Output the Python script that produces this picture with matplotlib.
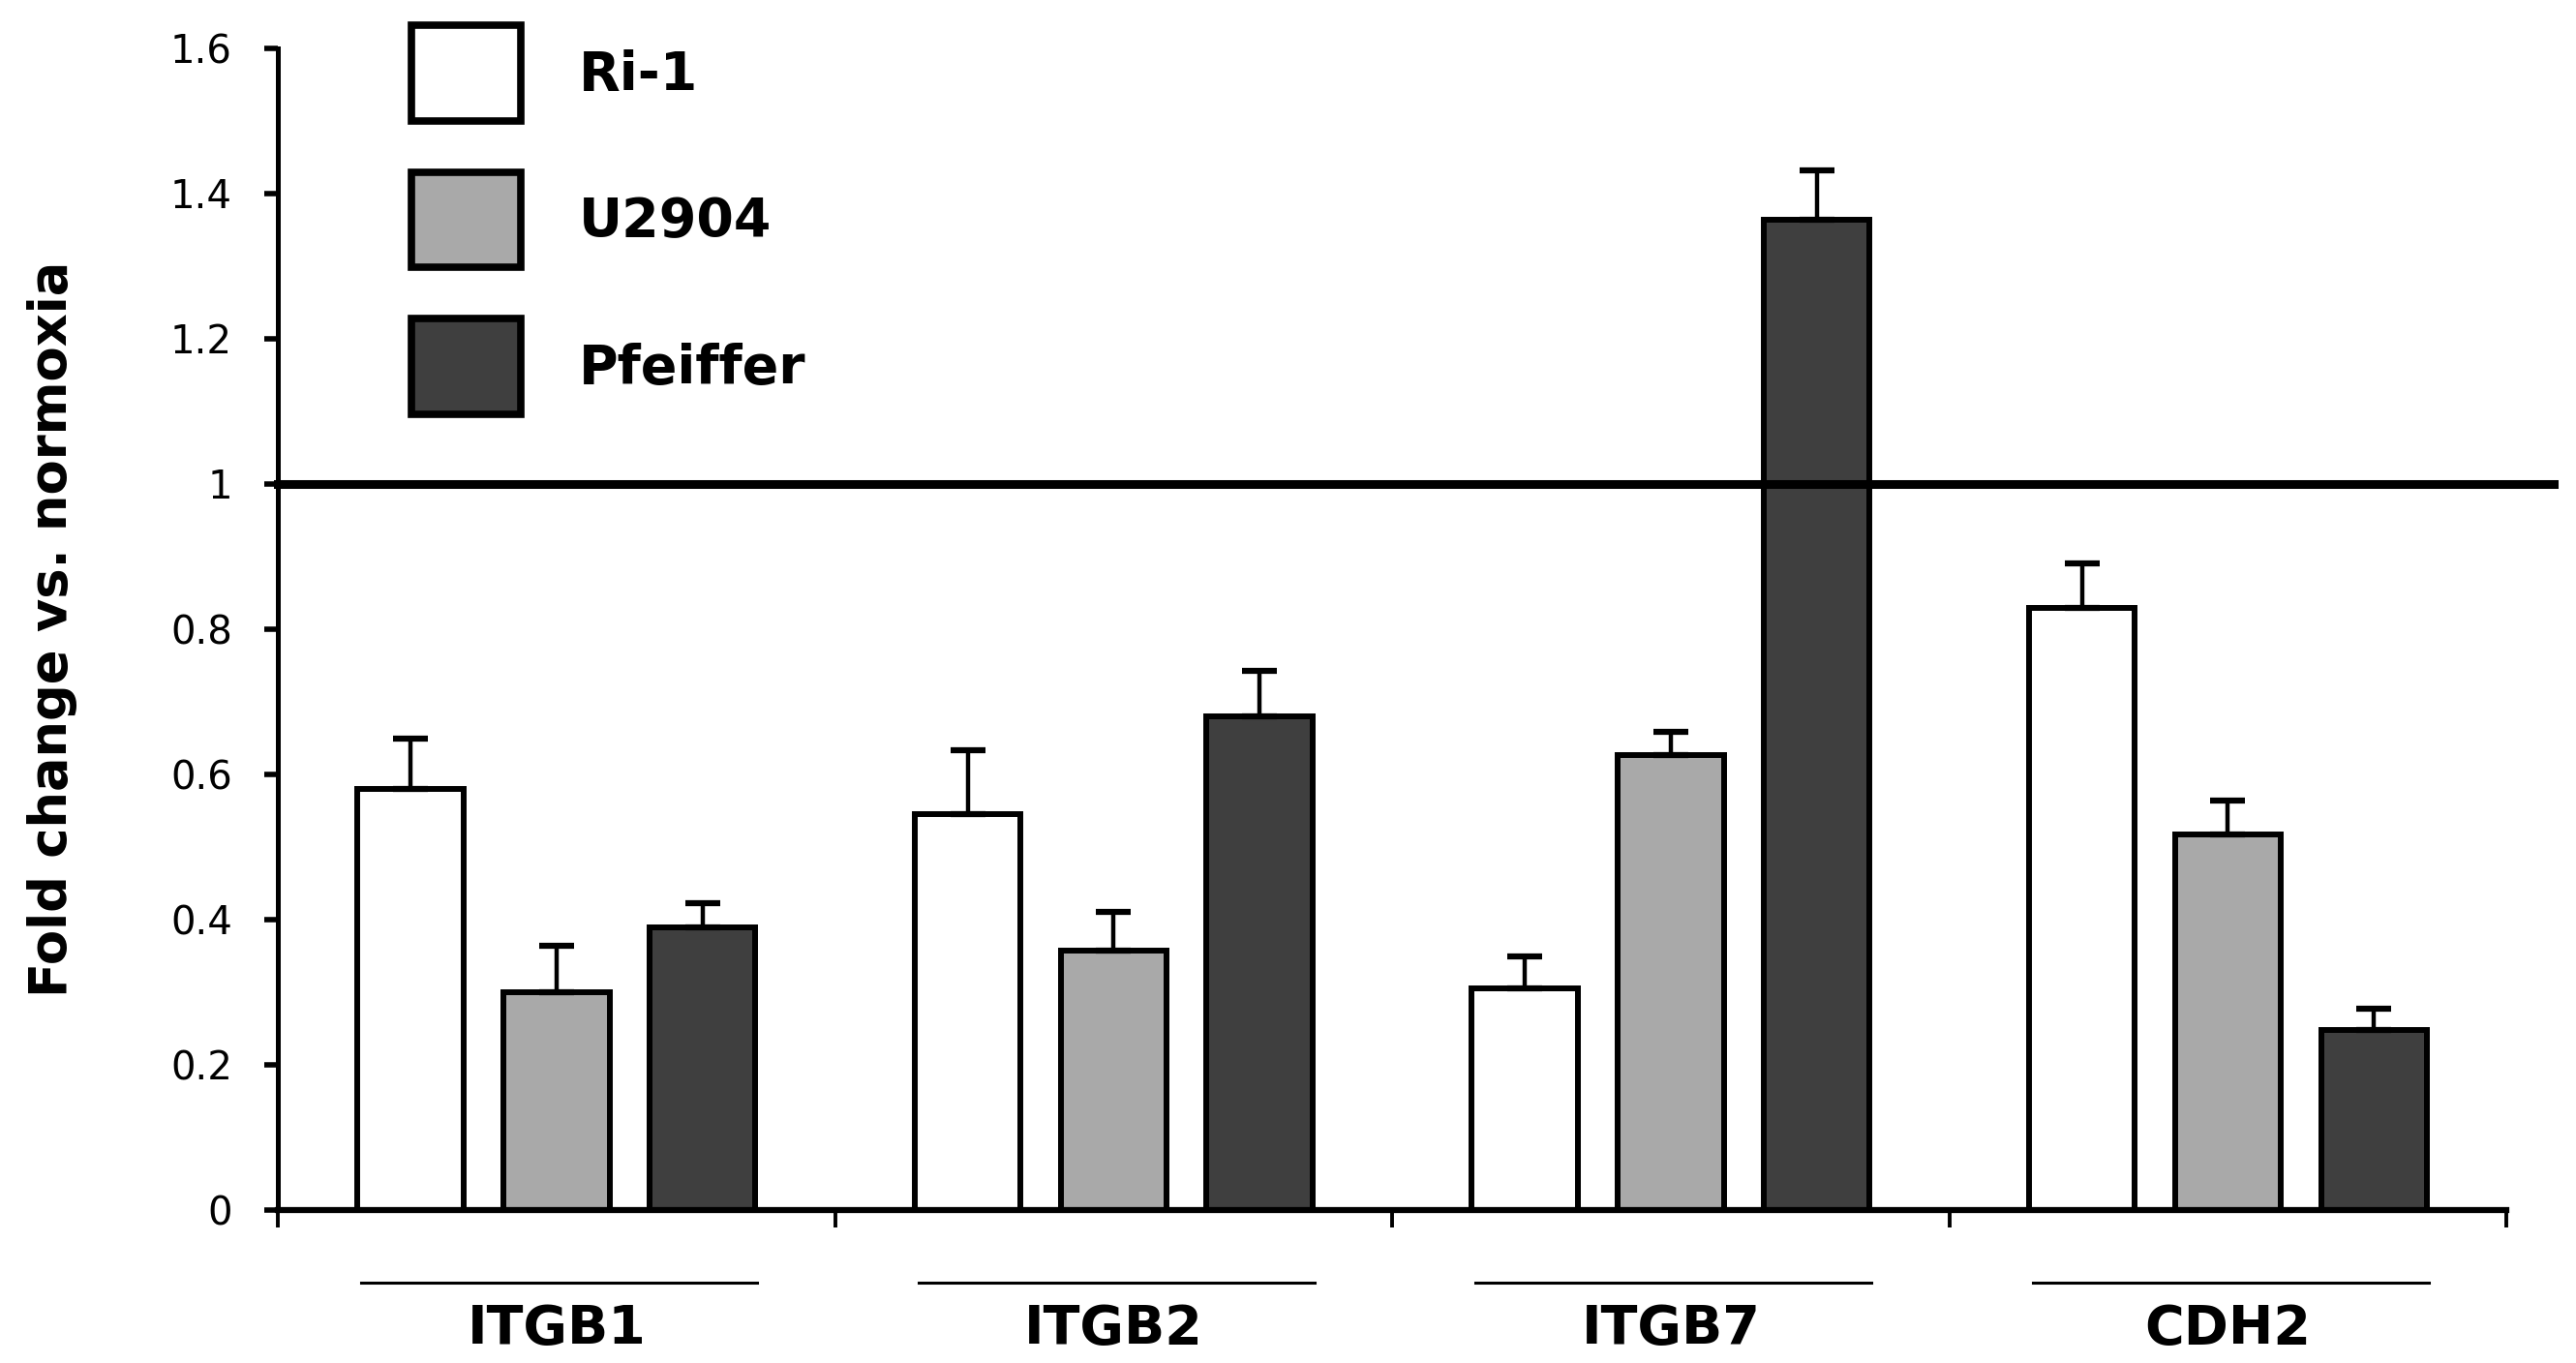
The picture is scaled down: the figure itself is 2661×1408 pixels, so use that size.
import matplotlib
matplotlib.use("Agg")
import matplotlib.pyplot as plt
from matplotlib.patches import Patch
import numpy as np

genes = ["ITGB1", "ITGB2", "ITGB7", "CDH2"]
series = ["Ri-1", "U2904", "Pfeiffer"]
ri1 = [0.58, 0.545, 0.305, 0.83]
u2904 = [0.30, 0.357, 0.627, 0.518]
pfeiffer = [0.389, 0.68, 1.364, 0.248]
ri1_err = [0.070, 0.089, 0.045, 0.061]
u2904_err = [0.064, 0.054, 0.032, 0.046]
pfeiffer_err = [0.034, 0.063, 0.068, 0.029]
yticks = [0, 0.2, 0.4, 0.6, 0.8, 1, 1.2, 1.4, 1.6]
ytick_labels = ["0", "0.2", "0.4", "0.6", "0.8", "1", "1.2", "1.4", "1.6"]

colors = ["#ffffff", "#a9a9a9", "#3f3f3f"]
values = [ri1, u2904, pfeiffer]
errors = [ri1_err, u2904_err, pfeiffer_err]

fig = plt.figure(figsize=(26.61, 14.08), dpi=100)
ax = fig.add_axes([0.1079, 0.1122, 0.973 - 0.1079, 0.9645 - 0.1122])

x = np.arange(len(genes)) + 0.5
offsets = [-0.262, 0.0, 0.262]
width = 0.19
for vals, errs, col, off, name in zip(values, errors, colors, offsets, series):
    ax.bar(x + off, vals, width=width, color=col, edgecolor="black",
           linewidth=4.3, zorder=2, label=name)
    ax.errorbar(x + off, vals, yerr=[np.zeros(len(vals)), errs], fmt="none",
                ecolor="black", elinewidth=3.2, capsize=13, capthick=4.5, zorder=3)

ax.set_xlim(0, 4)
ax.set_ylim(0, 1.6)

# reference line at 1
ax.plot([0, 4.085], [1, 1], color="black", linewidth=6.5, clip_on=False, zorder=4)

ax.spines["top"].set_visible(False)
ax.spines["right"].set_visible(False)
ax.spines["left"].set_linewidth(3.6)
ax.spines["bottom"].set_linewidth(4.5)

ax.set_yticks(yticks)
ax.set_yticklabels(ytick_labels, fontsize=29, family="DejaVu Sans")
ax.tick_params(axis="y", direction="out", length=10, width=4.0, pad=24)
ax.set_xticks([0, 1, 2, 3, 4])
ax.set_xticklabels([])
ax.tick_params(axis="x", direction="out", length=13, width=2.8)

trans = ax.get_xaxis_transform()
for i, g in enumerate(genes):
    ax.plot([i + 0.15, i + 0.86], [-0.0625, -0.0625], color="black",
            linewidth=2.2, transform=trans, clip_on=False)
    ax.text(i + 0.5, -0.1024, g, transform=trans, ha="center", va="center",
            fontsize=40, fontweight="bold", family="DejaVu Sans")

ax.set_ylabel("Fold change vs. normoxia", fontsize=38, fontweight="bold",
              family="DejaVu Sans")
ax.yaxis.set_label_coords(-0.090, 0.5)

handles = [Patch(facecolor=c, edgecolor="black", linewidth=5.5) for c in colors]
leg = fig.legend(handles, series, loc="upper left",
                 bbox_to_anchor=(0.1597, 0.9815), frameon=False,
                 prop={"family": "DejaVu Sans", "weight": "bold", "size": 40},
                 handlelength=2.03, handleheight=2.36, labelspacing=0.95,
                 handletextpad=1.08, borderpad=0, borderaxespad=0)

fig.savefig("out.png", dpi=100)
